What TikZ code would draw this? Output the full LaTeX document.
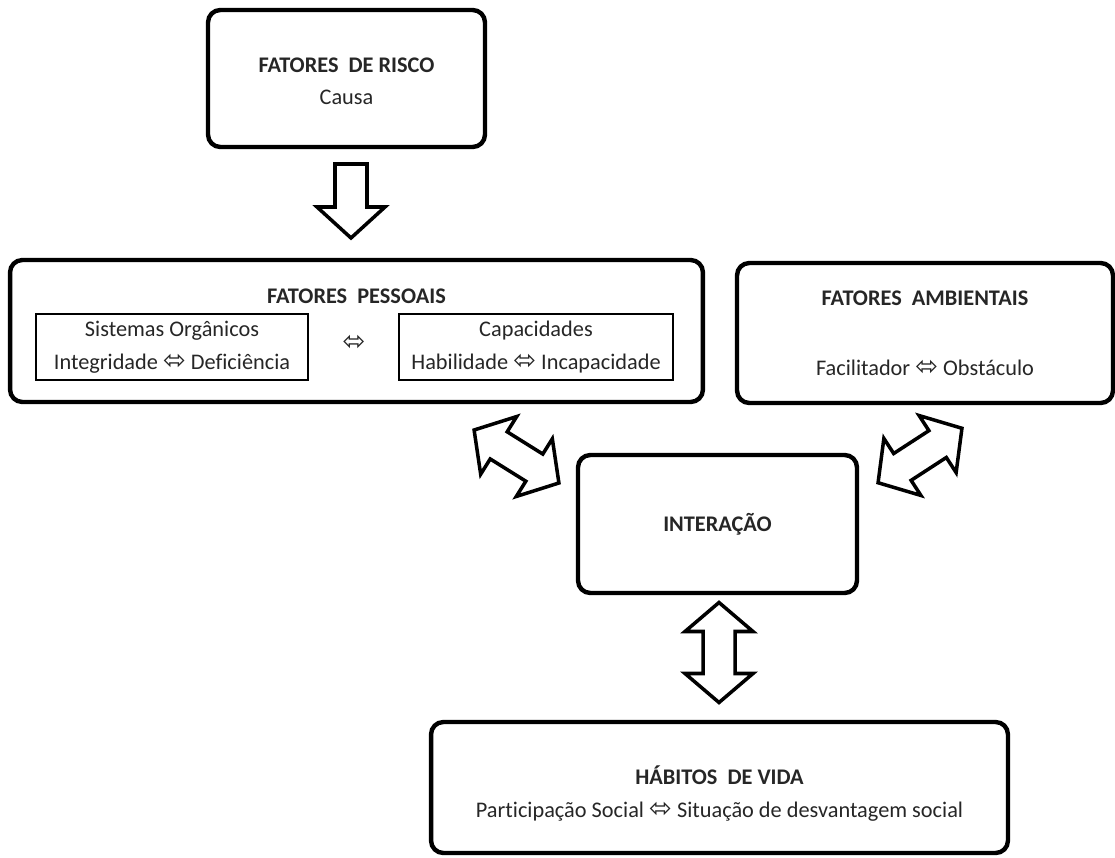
\documentclass[tikz,border=0pt]{standalone}
\usepackage{fontspec}
\setmainfont{Carlito}[Ligatures=NoCommon]
\newfontfamily\symfont{DejaVu Sans}
\newcommand{\lra}{{\symfont\fontsize{15.5pt}{14pt}\selectfont ⬄}}

\tikzset{
    every node/.style={font=\fontsize{12.7pt}{18.6pt}\selectfont, text=black!85},
    box/.style={draw, line width=2.5pt, rounded corners=7pt, inner sep=0pt, align=center},
    subbox/.style={draw, line width=0.7pt, inner sep=0pt, align=center, minimum height=1.32cm},
    title/.style={font=\fontsize{12.7pt}{18.6pt}\selectfont\bfseries},
    blockarrow/.style={draw, line width=2pt, fill=white, line join=miter},
    pics/dblarrow/.style={code={
        \draw[blockarrow] (-50,0) -- (-21,34) -- (-21,16) -- (21,16) -- (21,34) -- (50,0)
            -- (21,-34) -- (21,-16) -- (-21,-16) -- (-21,-34) -- cycle;
    }},
    pics/downarrow/.style={code={
        \draw[blockarrow] (-16,0) -- (16,0) -- (16,43) -- (34,43) -- (0,74) -- (-34,43) -- (-16,43) -- cycle;
    }}
}

\begin{document}
\begin{tikzpicture}[x=0.02cm, y=-0.02cm]
    \useasboundingbox (0,0) rectangle (1115,858);

    % Risk factors
    \node[box, minimum width=5.54cm, minimum height=2.74cm] (risco) at (346.5,78.5) {};
    \node[title] (riscoT) at (346.5,65) {FATORES\ \ DE RISCO};
    \node (riscoS) at (346.5,97) {Causa};

    % Personal factors
    \node[box, minimum width=13.86cm, minimum height=2.84cm] (pessoais) at (356.5,331) {};
    \node[title] (pessoaisT) at (356.5,296) {FATORES\ \ PESSOAIS};
    \node[subbox, minimum width=5.44cm] (sistemas) at (172,347) {Sistemas Orgânicos\\Integridade \lra{} Deficiência};
    \node[subbox, minimum width=5.48cm] (capac) at (536,347) {Capacidades\\Habilidade \lra{} Incapacidade};
    \node (entre) at (354,343) {\lra};

    % Environmental factors
    \node[box, minimum width=7.52cm, minimum height=2.80cm] (ambient) at (925,333) {};
    \node[title] (ambientT) at (925,298) {FATORES\ \ AMBIENTAIS};
    \node (ambientS) at (925,368) {Facilitador \lra{} Obstáculo};

    % Interaction
    \node[box, minimum width=5.58cm, minimum height=2.76cm, font=\fontsize{12.7pt}{18.6pt}\selectfont\bfseries] (inter) at (717.5,524) {INTERAÇÃO};

    % Life habits
    \node[box, minimum width=11.54cm, minimum height=2.62cm] (habitos) at (719.5,787.5) {};
    \node[title] (habitosT) at (719.5,775) {HÁBITOS\ \ DE VIDA};
    \node (habitosS) at (719.5,812) {Participação Social \lra{} Situação de desvantagem social};

    % Block arrows
    \pic at (351,164) {downarrow};
    \pic[rotate=-32] at (516.5,456.5) {dblarrow};
    \pic[rotate=33] at (920,455.5) {dblarrow};
    \pic[rotate=90] at (719,652.5) {dblarrow};
\end{tikzpicture}
\end{document}
